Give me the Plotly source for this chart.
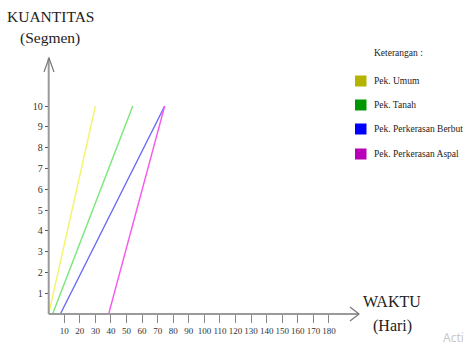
import plotly.graph_objects as go

# ---------------- data ----------------
tasks = ["Pek. Umum", "Pek. Tanah", "Pek. Perkerasan Berbutir", "Pek. Perkerasan Aspal"]
start_day = [0, 2.5, 7.5, 38.5]
end_day = [30, 54, 74.5, 74.5]
start_qty = [0, 0, 0, 0]
end_qty = [10, 10, 10, 10]
line_colors = ["#f4f46a", "#78e878", "#6a6af8", "#f858f0"]
legend_colors = ["#b4b400", "#009600", "#0000ff", "#b800b8"]
x_ticks = list(range(10, 190, 10))
y_ticks = list(range(1, 11))

W, H = 463, 343
# pixel geometry of the reference
OX, OY = 48.7, 314.0        # origin in pixels
SX, SY = 1.557, 20.8        # pixels per unit

def px2x(px):
    return (px - OX) / SX

def py2y(py):
    return (OY - py) / SY

x_range = [px2x(0), px2x(W)]
y_range = [py2y(H), py2y(0)]

fig = go.Figure()
for name, x0, x1, y0, y1, c in zip(tasks, start_day, end_day, start_qty, end_qty, line_colors):
    fig.add_trace(go.Scatter(x=[x0, x1], y=[y0, y1], mode="lines", name=name,
                             line=dict(color=c, width=1.4), showlegend=False,
                             hoverinfo="skip"))

axis_col = "#9a9a9a"
serif = "Liberation Serif, Times New Roman, serif"

fig.update_layout(
    width=W, height=H, margin=dict(l=0, r=0, t=0, b=0, pad=0),
    paper_bgcolor="white", plot_bgcolor="white",
    xaxis=dict(range=x_range, anchor="free", automargin=False,
               position=(0 - y_range[0]) / (y_range[1] - y_range[0]),
               tickvals=x_ticks, ticktext=[str(v) for v in x_ticks], tickangle=0,
               ticks="outside", ticklen=8, tickwidth=1, tickcolor="#888",
               showline=False, showgrid=False, zeroline=False,
               tickfont=dict(family=serif, size=9, color="#333")),
    yaxis=dict(range=y_range, anchor="free", automargin=False,
               position=(0 - x_range[0]) / (x_range[1] - x_range[0]),
               tickvals=y_ticks, ticktext=[str(v) for v in y_ticks],
               ticks="outside", ticklen=4, tickwidth=1, tickcolor="#555",
               showline=False, showgrid=False, zeroline=False,
               tickfont=dict(family=serif, size=10, color="#333")),
    showlegend=False,
)

# axes with open arrowheads
shapes = []
shapes.append(dict(type="line", x0=0, y0=0, x1=0, y1=py2y(58), line=dict(color=axis_col, width=2)))
shapes.append(dict(type="line", x0=0, y0=0, x1=px2x(359), y1=0, line=dict(color=axis_col, width=2)))
shapes.append(dict(type="path",
                   path=f"M {px2x(44)},{py2y(72)} L {px2x(49)},{py2y(58)} L {px2x(54)},{py2y(72)}",
                   line=dict(color="#777", width=1.2)))
shapes.append(dict(type="path",
                   path=f"M {px2x(350)},{py2y(307)} L {px2x(359)},{py2y(314)} L {px2x(350)},{py2y(321)}",
                   line=dict(color="#777", width=1.2)))

# custom legend
annotations = []
leg_y = [81, 105, 129, 154]
for name, c, yy in zip(tasks, legend_colors, leg_y):
    shapes.append(dict(type="rect", x0=px2x(355), x1=px2x(366.5), y0=py2y(yy + 5.5), y1=py2y(yy - 5.5),
                       fillcolor=c, line=dict(width=0)))
    annotations.append(dict(x=px2x(372), y=py2y(yy), text=name, showarrow=False,
                            xanchor="left", yanchor="middle",
                            font=dict(family=serif, size=9.5, color="#222")))
annotations.append(dict(x=px2x(372), y=py2y(53), text="Keterangan :", showarrow=False,
                        xanchor="left", yanchor="middle",
                        font=dict(family=serif, size=9.5, color="#222")))

# axis titles
annotations.append(dict(x=px2x(50), y=py2y(16), text="KUANTITAS", showarrow=False,
                        xanchor="center", yanchor="middle",
                        font=dict(family=serif, size=15.5, color="#222")))
annotations.append(dict(x=px2x(50), y=py2y(38), text="(Segmen)", showarrow=False,
                        xanchor="center", yanchor="middle",
                        font=dict(family=serif, size=15.5, color="#222")))
annotations.append(dict(x=px2x(392), y=py2y(301), text="WAKTU", showarrow=False,
                        xanchor="center", yanchor="middle",
                        font=dict(family=serif, size=16, color="#222")))
annotations.append(dict(x=px2x(392), y=py2y(326), text="(Hari)", showarrow=False,
                        xanchor="center", yanchor="middle",
                        font=dict(family=serif, size=16, color="#222")))
annotations.append(dict(x=px2x(441), y=py2y(337), text="Acti", showarrow=False,
                        xanchor="left", yanchor="middle",
                        font=dict(family="Noto Sans, sans-serif", size=12, color="#c8c8c8")))

fig.update_layout(shapes=shapes, annotations=annotations)
fig.write_html("out.html", config={"displayModeBar": False, "staticPlot": True},
               post_script="document.body.style.margin='0';")
